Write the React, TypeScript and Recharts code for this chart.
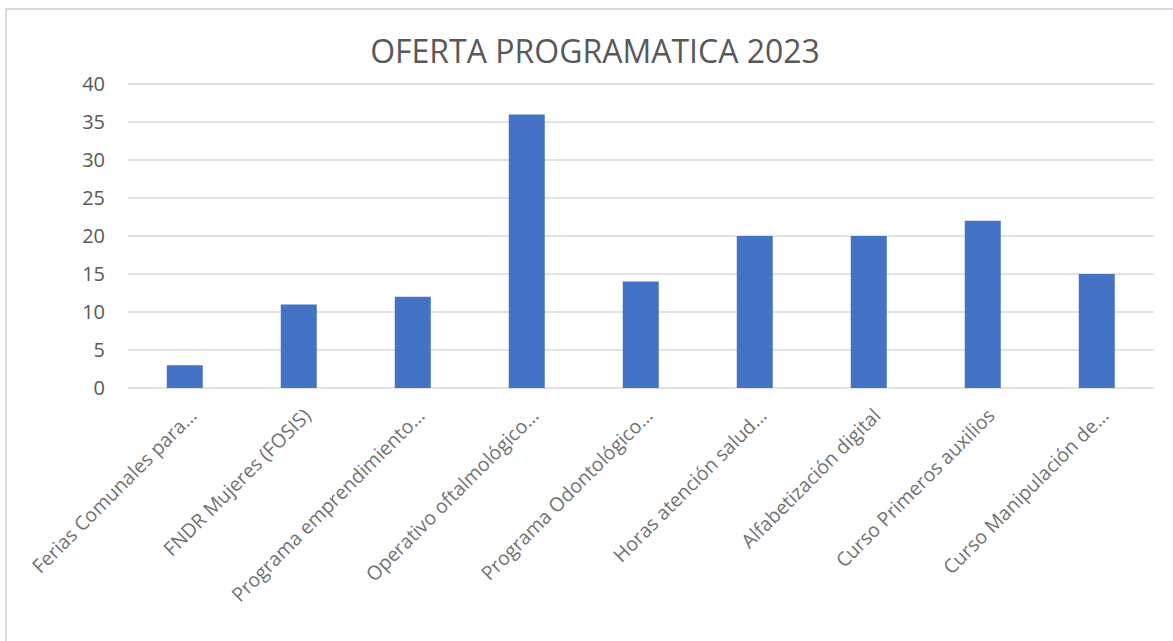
import React from "react";
import { BarChart, Bar, XAxis, YAxis, CartesianGrid } from "recharts";

const categories = [
  "Ferias Comunales para…",
  "FNDR Mujeres (FOSIS)",
  "Programa emprendimiento…",
  "Operativo oftalmológico…",
  "Programa Odontológico…",
  "Horas atención salud…",
  "Alfabetización digital",
  "Curso Primeros auxilios",
  "Curso Manipulación de…",
];
const values = [3, 11, 12, 36, 14, 20, 20, 22, 15];
const yTicks = [0, 5, 10, 15, 20, 25, 30, 35, 40];
const title = "OFERTA PROGRAMATICA 2023";

const data = categories.map((c, i) => ({ name: c, value: values[i] }));

const FONT = "'Open Sans', sans-serif";

const XTick = (props: any) => {
  const { x, y, payload } = props;
  return (
    <g transform={`translate(${x + 13},${y + 21})`}>
      <text
        x={0}
        y={0}
        textAnchor="end"
        transform="rotate(-45)"
        fill="#727272"
        fontSize={19.5}
        fontFamily={FONT}
      >
        {payload.value}
      </text>
    </g>
  );
};

export default function App() {
  return (
    <div
      style={{
        position: "absolute",
        left: 0,
        top: 0,
        width: 1173,
        height: 641,
        overflow: "hidden",
        background: "#fff",
      }}
    >
      <div
        style={{
          position: "absolute",
          left: 5,
          top: 8,
          width: 1200,
          height: 700,
          border: "2px solid #d9d9d9",
          boxSizing: "border-box",
        }}
      />
      <div
        style={{
          position: "absolute",
          left: 0,
          top: 29,
          width: 1190,
          textAlign: "center",
          fontFamily: FONT,
          fontSize: 32,
          lineHeight: "44px",
          color: "#595959",
        }}
      >
        {title}
      </div>
      <div style={{ position: "absolute", left: 0, top: 0 }}>
        <BarChart
          width={1154}
          height={641}
          data={data}
          margin={{ top: 84, right: 0, bottom: 0, left: 0 }}
          barCategoryGap="34%"
        >
          <CartesianGrid vertical={false} stroke="#d9d9d9" strokeWidth={1.5} />
          <XAxis
            dataKey="name"
            axisLine={false}
            tickLine={false}
            interval={0}
            tick={<XTick />}
            height={253}
          />
          <YAxis
            width={128}
            domain={[0, 40]}
            ticks={yTicks}
            axisLine={false}
            tickLine={false}
            tickMargin={17}
            tick={{ fill: "#595959", fontSize: 20, fontFamily: FONT }}
          />
          <Bar dataKey="value" fill="#4472C4" isAnimationActive={false} />
        </BarChart>
      </div>
    </div>
  );
}
